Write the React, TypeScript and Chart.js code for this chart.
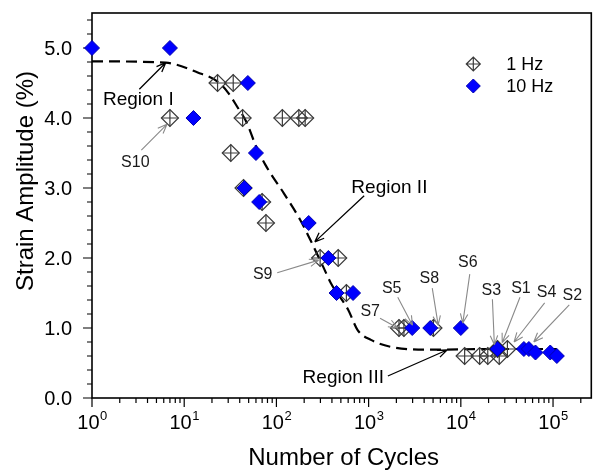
import React, { useEffect, useRef } from "react";
import { Chart, registerables } from "chart.js";

Chart.register(...registerables);

// ---- data ----
const hz1Cycles = [7, 23, 34, 43, 32, 44, 70, 77, 116, 175, 205, 298, 468, 574, 2135, 2415, 5050, 11000, 16000, 19600, 26100, 25000, 32000];
const hz1Strain = [4.0, 4.5, 4.5, 4.0, 3.5, 3.0, 2.8, 2.5, 4.0, 4.0, 4.0, 2.0, 2.0, 1.5, 1.0, 1.0, 1.0, 0.6, 0.6, 0.6, 0.6, 0.7, 0.7];

const hz10Cycles = [1, 7, 12.6, 49, 60, 45, 65, 224, 366, 449, 678, 2970, 4660, 10000, 25000, 48300, 54700, 64500, 93300, 110000];
const hz10Strain = [5.0, 5.0, 4.0, 4.5, 3.5, 3.0, 2.8, 2.5, 2.0, 1.5, 1.5, 1.0, 1.0, 1.0, 0.7, 0.7, 0.7, 0.65, 0.65, 0.6];

const fitCycles = [1, 6.3, 14, 23, 30, 38, 47, 60, 76, 121, 182, 233, 320, 390, 600, 760, 1060, 1750, 4600, 20000, 110000];
const fitStrain = [4.81, 4.79, 4.65, 4.52, 4.36, 4.15, 3.95, 3.6, 3.33, 2.92, 2.54, 2.26, 1.88, 1.64, 1.26, 0.97, 0.83, 0.73, 0.69, 0.7, 0.7];

const xTickValues = [1, 10, 100, 1000, 10000, 100000];
const xTickExponents = ["0", "1", "2", "3", "4", "5"];
const yTickValues = [0, 1, 2, 3, 4, 5];
const yTickLabels = ["0.0", "1.0", "2.0", "3.0", "4.0", "5.0"];
const seriesLabels = ["1 Hz", "10 Hz"];
const xTitle = "Number of Cycles";
const yTitle = "Strain Amplitude (%)";

const X_MIN = 1;
const X_MAX = 2.6e5;
const Y_MIN = 0;
const Y_MAX = 5.5;

type Note = {
  text: string;
  x: number;
  y: number;
  align: CanvasTextAlign;
  size: number;
  from: [number, number];
  to: [number, number];
  arrowColor: string;
};

const notes: Note[] = [
  { text: "Region I", x: 3.18, y: 4.26, align: "center", size: 19, from: [3.26, 4.41], to: [6.3, 4.79], arrowColor: "#000" },
  { text: "S10", x: 2.95, y: 3.36, align: "center", size: 16, from: [3.43, 3.54], to: [6.5, 3.91], arrowColor: "#8a8a8a" },
  { text: "Region II", x: 650, y: 3.01, align: "left", size: 19, from: [895, 2.89], to: [261, 2.23], arrowColor: "#000" },
  { text: "S9", x: 71, y: 1.76, align: "center", size: 16, from: [102, 1.79], to: [288, 1.97], arrowColor: "#8a8a8a" },
  { text: "S7", x: 1040, y: 1.23, align: "center", size: 16, from: [1330, 1.14], to: [2070, 1.0], arrowColor: "#8a8a8a" },
  { text: "S5", x: 1780, y: 1.57, align: "center", size: 16, from: [2070, 1.44], to: [2990, 1.04], arrowColor: "#8a8a8a" },
  { text: "S8", x: 4550, y: 1.71, align: "center", size: 16, from: [4900, 1.57], to: [5680, 1.04], arrowColor: "#8a8a8a" },
  { text: "S6", x: 11900, y: 1.93, align: "center", size: 16, from: [12500, 1.77], to: [10500, 1.07], arrowColor: "#8a8a8a" },
  { text: "S3", x: 21400, y: 1.54, align: "center", size: 16, from: [22000, 1.41], to: [23100, 0.76], arrowColor: "#8a8a8a" },
  { text: "S1", x: 44900, y: 1.57, align: "center", size: 16, from: [43800, 1.44], to: [28100, 0.79], arrowColor: "#8a8a8a" },
  { text: "S4", x: 85100, y: 1.5, align: "center", size: 16, from: [81100, 1.36], to: [37800, 0.8], arrowColor: "#8a8a8a" },
  { text: "S2", x: 162000, y: 1.47, align: "center", size: 16, from: [150000, 1.33], to: [61800, 0.8], arrowColor: "#8a8a8a" },
  { text: "Region III", x: 1466, y: 0.286, align: "right", size: 19, from: [1617, 0.314], to: [7080, 0.686], arrowColor: "#000" },
];

const FONT = '"Liberation Sans", Arial, Helvetica, sans-serif';
const OPEN_COLOR = "#3a3a3a";
const BLUE = "#0000ff";
const BLUE_EDGE = "#0000b0";

function drawArrow(ctx: CanvasRenderingContext2D, x0: number, y0: number, x1: number, y1: number, color: string) {
  ctx.save();
  ctx.strokeStyle = color;
  ctx.lineWidth = color === "#000" ? 1.3 : 1.1;
  ctx.beginPath();
  ctx.moveTo(x0, y0);
  ctx.lineTo(x1, y1);
  const ang = Math.atan2(y1 - y0, x1 - x0);
  const head = 10;
  for (const s of [-1, 1]) {
    ctx.moveTo(x1, y1);
    ctx.lineTo(x1 - head * Math.cos(ang + s * 0.38), y1 - head * Math.sin(ang + s * 0.38));
  }
  ctx.stroke();
  ctx.restore();
}

function openMarker(ctx: CanvasRenderingContext2D, cx: number, cy: number, r: number) {
  ctx.save();
  ctx.strokeStyle = OPEN_COLOR;
  ctx.lineWidth = 1.2;
  ctx.beginPath();
  ctx.moveTo(cx - r, cy);
  ctx.lineTo(cx, cy - r);
  ctx.lineTo(cx + r, cy);
  ctx.lineTo(cx, cy + r);
  ctx.closePath();
  ctx.moveTo(cx - r, cy);
  ctx.lineTo(cx + r, cy);
  ctx.moveTo(cx, cy - r);
  ctx.lineTo(cx, cy + r);
  ctx.stroke();
  ctx.restore();
}

function blueMarker(ctx: CanvasRenderingContext2D, cx: number, cy: number, r: number) {
  ctx.save();
  ctx.fillStyle = BLUE;
  ctx.strokeStyle = BLUE_EDGE;
  ctx.lineWidth = 1;
  ctx.beginPath();
  ctx.moveTo(cx - r, cy);
  ctx.lineTo(cx, cy - r);
  ctx.lineTo(cx + r, cy);
  ctx.lineTo(cx, cy + r);
  ctx.closePath();
  ctx.fill();
  ctx.stroke();
  ctx.restore();
}

const decoPlugin = {
  id: "deco",
  beforeDatasetsDraw(chart: any) {
    const { ctx, chartArea: a, scales } = chart;
    const x = scales.x;
    const y = scales.y;
    ctx.save();
    // frame
    ctx.strokeStyle = "#000";
    ctx.lineWidth = 1.6;
    ctx.strokeRect(a.left, a.top, a.right - a.left, a.bottom - a.top);

    // x ticks (major + minor, outward)
    ctx.lineWidth = 1.2;
    ctx.beginPath();
    for (let e = 0; e <= 6; e++) {
      for (let m = 1; m <= 9; m++) {
        const v = m * Math.pow(10, e);
        if (v > X_MAX) break;
        const px = x.getPixelForValue(v);
        const len = m === 1 ? 9 : 5;
        ctx.moveTo(px, a.bottom);
        ctx.lineTo(px, a.bottom + len);
      }
    }
    // y ticks (major every 1, minor every 0.2, outward)
    for (let i = 0; i * 0.2 <= Y_MAX + 1e-9; i++) {
      const py = y.getPixelForValue(i * 0.2);
      const len = i % 5 === 0 ? 9 : 5;
      ctx.moveTo(a.left - len, py);
      ctx.lineTo(a.left, py);
    }
    ctx.stroke();

    // y tick labels
    ctx.fillStyle = "#000";
    ctx.font = `20px ${FONT}`;
    ctx.textAlign = "right";
    ctx.textBaseline = "middle";
    yTickValues.forEach((v, i) => {
      ctx.fillText(yTickLabels[i], a.left - 20, y.getPixelForValue(v) + 1);
    });

    // x tick labels: 10 with superscript exponent
    ctx.textBaseline = "alphabetic";
    ctx.textAlign = "left";
    xTickValues.forEach((v, i) => {
      const px = x.getPixelForValue(v);
      ctx.font = `20px ${FONT}`;
      const w1 = ctx.measureText("10").width;
      ctx.font = `13px ${FONT}`;
      const w2 = ctx.measureText(xTickExponents[i]).width;
      const start = px - (w1 + w2) / 2;
      ctx.font = `20px ${FONT}`;
      ctx.fillText("10", start, a.bottom + 31);
      ctx.font = `13px ${FONT}`;
      ctx.fillText(xTickExponents[i], start + w1 + 0.5, a.bottom + 22);
    });

    // axis titles
    ctx.font = `24px ${FONT}`;
    ctx.textAlign = "center";
    ctx.textBaseline = "alphabetic";
    ctx.fillText(xTitle, (a.left + a.right) / 2 + 2, a.bottom + 67);
    ctx.save();
    ctx.translate(33, 181);
    ctx.rotate(-Math.PI / 2);
    ctx.fillText(yTitle, 0, 0);
    ctx.restore();
    ctx.restore();
  },
  afterDatasetsDraw(chart: any) {
    const { ctx, chartArea: a, scales } = chart;
    const x = scales.x;
    const y = scales.y;
    ctx.save();
    // annotations
    notes.forEach((n) => {
      drawArrow(
        ctx,
        x.getPixelForValue(n.from[0]),
        y.getPixelForValue(n.from[1]),
        x.getPixelForValue(n.to[0]),
        y.getPixelForValue(n.to[1]),
        n.arrowColor
      );
      ctx.fillStyle = n.arrowColor === "#000" ? "#000" : "#1a1a1a";
      ctx.font = `${n.size}px ${FONT}`;
      ctx.textAlign = n.align;
      ctx.textBaseline = "middle";
      ctx.fillText(n.text, x.getPixelForValue(n.x), y.getPixelForValue(n.y));
    });

    // legend
    const lx = a.right - 118;
    const ly1 = a.top + 51;
    const ly2 = a.top + 73;
    openMarker(ctx, lx, ly1, 7);
    blueMarker(ctx, lx, ly2, 7);
    ctx.fillStyle = "#000";
    ctx.font = `18px ${FONT}`;
    ctx.textAlign = "left";
    ctx.textBaseline = "middle";
    ctx.fillText(seriesLabels[0], lx + 33, ly1 + 1);
    ctx.fillText(seriesLabels[1], lx + 33, ly2 + 1);
    ctx.restore();
  },
};

export default function App() {
  const canvasRef = useRef<HTMLCanvasElement | null>(null);

  useEffect(() => {
    const canvas = canvasRef.current;
    if (!canvas) return;
    const hz1 = hz1Cycles.map((c, i) => ({ x: c, y: hz1Strain[i] }));
    const hz10 = hz10Cycles.map((c, i) => ({ x: c, y: hz10Strain[i] }));
    const fit = fitCycles.map((c, i) => ({ x: c, y: fitStrain[i] }));

    const chart = new Chart(canvas, {
      type: "scatter",
      data: {
        datasets: [
          {
            label: seriesLabels[1],
            data: hz10,
            pointStyle: "rectRot",
            pointRadius: 7.5,
            backgroundColor: BLUE,
            borderColor: BLUE_EDGE,
            borderWidth: 1,
            order: 0,
            clip: false as any,
          },
          {
            label: seriesLabels[0],
            data: hz1,
            pointStyle: "rectRot",
            pointRadius: 8.5,
            backgroundColor: "rgba(0,0,0,0)",
            borderColor: OPEN_COLOR,
            borderWidth: 1.2,
            order: 1,
            clip: false as any,
          },
          {
            label: seriesLabels[0] + " cross",
            data: hz1,
            pointStyle: "cross",
            pointRadius: 8.5,
            backgroundColor: "rgba(0,0,0,0)",
            borderColor: OPEN_COLOR,
            borderWidth: 1.2,
            order: 1,
            clip: false as any,
          },
          {
            label: "fit",
            data: fit,
            showLine: true,
            borderColor: "#000",
            borderWidth: 2.2,
            borderDash: [11, 6],
            pointRadius: 0,
            cubicInterpolationMode: "monotone",
            order: 3,
          } as any,
        ],
      },
      options: {
        animation: false,
        responsive: false,
        devicePixelRatio: 1,
        events: [],
        layout: { padding: { left: 92, right: 3, top: 13, bottom: 76 } },
        plugins: {
          legend: { display: false },
          tooltip: { enabled: false },
        },
        scales: {
          x: { type: "logarithmic", min: X_MIN, max: X_MAX, display: false },
          y: { type: "linear", min: Y_MIN, max: Y_MAX, display: false },
        },
      },
      plugins: [decoPlugin],
    });
    return () => chart.destroy();
  }, []);

  return (
    <div style={{ position: "fixed", left: 0, top: 0, width: 601, height: 474, background: "#fff" }}>
      <canvas ref={canvasRef} width={601} height={474} style={{ width: 601, height: 474, display: "block" }} />
    </div>
  );
}
